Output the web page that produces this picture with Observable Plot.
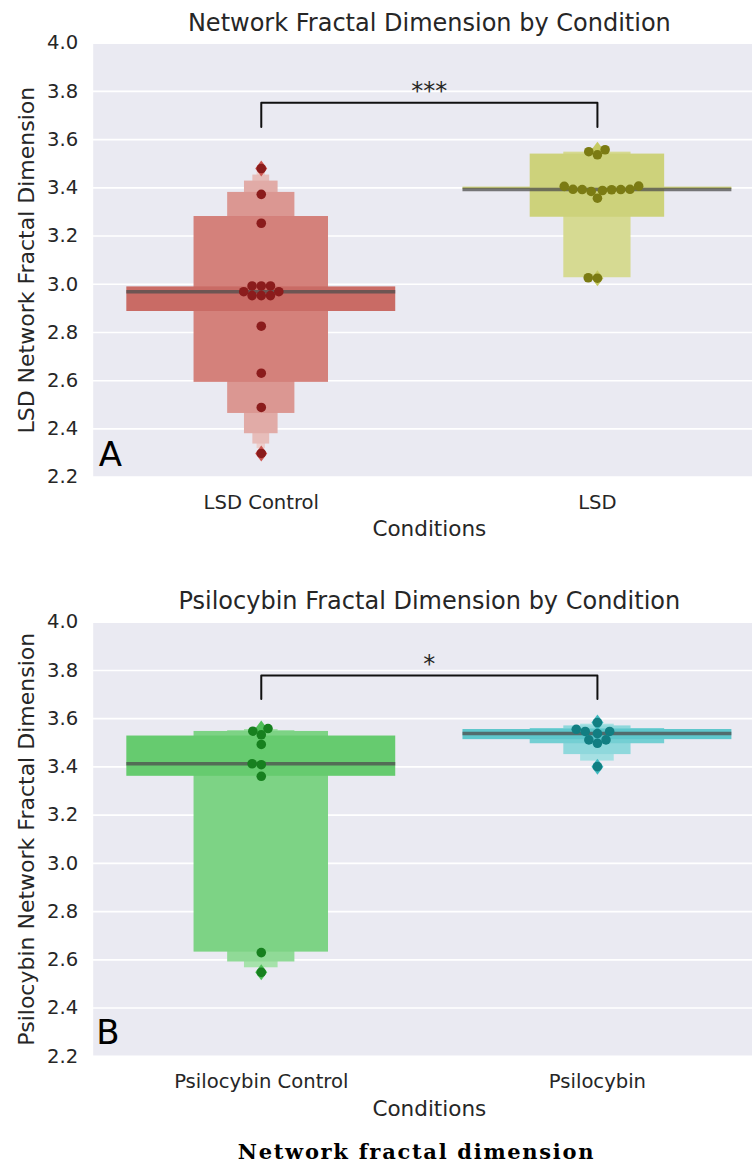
<!DOCTYPE html>
<html>
<head>
<meta charset="utf-8">
<script src="https://cdn.jsdelivr.net/npm/d3@7"></script>
<script src="https://cdn.jsdelivr.net/npm/@observablehq/plot@0.6"></script>
<style>
  html, body { margin: 0; padding: 0; background: #ffffff; overflow: hidden; }
  #page { position: relative; width: 752px; height: 1168px; overflow: hidden; background: #ffffff; }
  #page svg { position: absolute; left: 0; max-width: none !important; }
  #caption { position: absolute; left: 0; width: 833px; text-align: center;
             font-family: "DejaVu Serif", serif; font-weight: bold; font-size: 21px;
             letter-spacing: 1.7px; line-height: 21px; color: #000; white-space: nowrap; }
</style>
</head>
<body>
<div id="page"><div id="caption">Network fractal dimension</div></div>
<script>
// ---------------- data ----------------
const lsdCategories = ["LSD Control", "LSD"];
const psiCategories = ["Psilocybin Control", "Psilocybin"];
const yTicks = [2.2, 2.4, 2.6, 2.8, 3.0, 3.2, 3.4, 3.6, 3.8, 4.0];

// individual subject values (swarm points)
const lsdControlValues = [3.480, 3.373, 3.253, 2.993, 2.993, 2.993, 2.969, 2.969, 2.953, 2.953, 2.953, 2.826, 2.631, 2.489, 2.298];
const lsdValues        = [3.550, 3.537, 3.558, 3.407, 3.393, 3.393, 3.389, 3.385, 3.357, 3.392, 3.394, 3.394, 3.406, 3.027, 3.025];
const psiControlValues = [3.548, 3.559, 3.533, 3.493, 3.413, 3.409, 3.361, 2.630, 2.548];
const psiValues        = [3.584, 3.547, 3.547, 3.556, 3.538, 3.512, 3.512, 3.498, 3.401];

// letter-value boxes (depth 0 = widest box, then each deeper level)
const lsdControlBoxLow  = [2.887, 2.593, 2.464, 2.380, 2.337, 2.318];
const lsdControlBoxHigh = [2.989, 3.281, 3.381, 3.428, 3.453, 3.466];
const lsdBoxLow         = [3.393, 3.278, 3.027];
const lsdBoxHigh        = [3.403, 3.540, 3.548];
const psiControlBoxLow  = [3.361, 2.632, 2.591, 2.567];
const psiControlBoxHigh = [3.528, 3.547, 3.550, 3.555];
const psiBoxLow         = [3.513, 3.496, 3.451, 3.424];
const psiBoxHigh        = [3.555, 3.559, 3.570, 3.577];

// significance brackets [end, top]
const lsdBracket = [3.652, 3.753];
const lsdStars = "***";
const psiBracket = [3.682, 3.779];
const psiStars = "*";

// ---------------- styles ----------------
const colors = {
  lsdControl: {boxes: ["#c96b65", "#d4817b", "#db9792", "#e1aba7", "#e7bdba", "#eccecc"], point: "#8b1c1c", flier: "#cd5752"},
  lsd:        {boxes: ["#cdd17a", "#cdd27b", "#d6da92"], point: "#7b7b13", flier: "#c6ca62"},
  psiControl: {boxes: ["#66cb6f", "#7dd385", "#90da97", "#a6e2ab"], point: "#17801f", flier: "#4fbf59"},
  psi:        {boxes: ["#5ec7cc", "#74cfd3", "#8fd8dc", "#a6e0e3"], point: "#127e82", flier: "#3fb9bf"}
};
const TEXT = "#262626";
const FONT = "DejaVu Sans";

// thin diamond symbol (matplotlib 'd')
const thinDiamond = {
  draw(ctx, size) {
    const r = Math.sqrt(size / Math.PI);
    const h = r * 1.6, w = r * 1.2;
    ctx.moveTo(0, -h); ctx.lineTo(w, 0); ctx.lineTo(0, h); ctx.lineTo(-w, 0); ctx.closePath();
  }
};

// seaborn-like beeswarm: returns pixel offsets
function swarm(values, ypx, d) {
  const order = d3.range(values.length).sort((a, b) => values[a] - values[b]);
  const placed = [];
  const off = new Array(values.length);
  for (const i of order) {
    const y = ypx(values[i]);
    const neigh = placed.filter(p => Math.abs(p.y - y) < d);
    const cands = [0];
    for (const p of neigh) {
      const dx = Math.sqrt(d * d - (p.y - y) ** 2);
      cands.push(p.x - dx, p.x + dx);
    }
    cands.sort((a, b) => Math.abs(a) - Math.abs(b));
    const x = cands.find(c => neigh.every(p => (p.x - c) ** 2 + (p.y - y) ** 2 >= d * d - 1e-6));
    placed.push({x, y});
    off[i] = x;
  }
  return off;
}

function makePanel(cfg) {
  const W = 765, H = 560;
  const mL = 92.7, mR = 0;
  const mT = cfg.frameTop - cfg.top;
  const mB = H - (cfg.frameBottom - cfg.top);
  const ypx = d3.scaleLinear([2.2, 4.0], [H - mB, mT]);
  const xUnit = (W - mL - mR) / 2;
  const D = 9.2;

  const groups = cfg.groups.map((g, i) => ({...g, pos: i}));
  const boxes = groups.flatMap(g => g.low.map((lo, k) => ({
    pos: g.pos, k, lo, hi: g.high[k], half: 0.4 / 2 ** k, fill: g.colors.boxes[k]
  }))).sort((a, b) => b.k - a.k);
  const medians = groups.map(g => ({pos: g.pos, v: d3.median(g.values)}));
  const fliers = groups.flatMap(g => d3.extent(g.values).map(v => ({pos: g.pos, v, fill: g.colors.flier})));
  const points = groups.flatMap(g => {
    const off = swarm(g.values, ypx, D);
    return g.values.map((v, j) => ({x: g.pos + off[j] / xUnit, v, fill: g.colors.point}));
  });
  const bracket = [
    {x: 0, y: cfg.bracket[0]}, {x: 0, y: cfg.bracket[1]},
    {x: 1, y: cfg.bracket[1]}, {x: 1, y: cfg.bracket[0]}
  ];

  const svg = Plot.plot({
    width: W, height: H,
    marginLeft: mL, marginRight: mR, marginTop: mT, marginBottom: mB,
    x: {domain: [-0.5, 1.5], ticks: [0, 1], tickFormat: i => cfg.categories[i], tickSize: 0, tickPadding: 18, label: null},
    y: {domain: [2.2, 4.0], ticks: yTicks, tickFormat: d3.format(".1f"), tickSize: 0, tickPadding: 15, label: null},
    color: {type: "identity"},
    style: {fontFamily: FONT, fontSize: "19.6px", color: TEXT, background: "transparent", overflow: "visible", maxWidth: "none"},
    marks: [
      Plot.frame({fill: "#eaeaf2", stroke: "none"}),
      Plot.ruleY(yTicks, {stroke: "#ffffff", strokeWidth: 1.6}),
      Plot.rect(boxes, {x1: d => d.pos - d.half, x2: d => d.pos + d.half, y1: "lo", y2: "hi", fill: "fill"}),
      Plot.ruleY(medians, {y: "v", x1: d => d.pos - 0.4, x2: d => d.pos + 0.4, stroke: "#4d4d4d", strokeOpacity: 0.75, strokeWidth: 3.5}),
      Plot.dot(fliers, {x: "pos", y: "v", r: 5, symbol: thinDiamond, fill: "fill", stroke: "none"}),
      Plot.dot(points, {x: "x", y: "v", r: 4.8, fill: "fill", stroke: "none"}),
      Plot.line(bracket, {x: "x", y: "y", stroke: "#111111", strokeWidth: 2}),
      Plot.text([cfg.stars], {text: d => d, x: 0.5, y: cfg.bracket[1], dy: -3.5, lineAnchor: "bottom", fontSize: 24, fill: TEXT}),
      Plot.text([cfg.title], {text: d => d, frameAnchor: "top", dy: cfg.titleDy, lineAnchor: "bottom", fontSize: 24, fill: TEXT}),
      Plot.text(["Conditions"], {text: d => d, frameAnchor: "bottom", dy: 59.2, lineAnchor: "bottom", fontSize: 21.5, fill: TEXT}),
      Plot.text([cfg.ylabel], {text: d => d, frameAnchor: "left", dx: -59.4, rotate: -90, lineAnchor: "bottom", textAnchor: "middle", fontSize: 22, fill: TEXT}),
      Plot.text([cfg.letter], {text: d => d, frameAnchor: "bottom-left", dx: cfg.letterDx, dy: cfg.letterDy, textAnchor: "start", lineAnchor: "bottom", fontSize: 34, fill: "#000000"})
    ]
  });
  svg.style.top = cfg.top + "px";
  return svg;
}

const page = document.getElementById("page");
page.appendChild(makePanel({
  top: 0, frameTop: 42.7, frameBottom: 476.6,
  categories: lsdCategories,
  title: "Network Fractal Dimension by Condition",
  ylabel: "LSD Network Fractal Dimension",
  letter: "A", letterDx: 5.5, letterDy: -11.6, titleDy: -12,
  bracket: lsdBracket, stars: lsdStars,
  groups: [
    {values: lsdControlValues, low: lsdControlBoxLow, high: lsdControlBoxHigh, colors: colors.lsdControl},
    {values: lsdValues, low: lsdBoxLow, high: lsdBoxHigh, colors: colors.lsd}
  ]
}));
page.appendChild(makePanel({
  top: 560, frameTop: 621.7, frameBottom: 1055.8,
  categories: psiCategories,
  title: "Psilocybin Fractal Dimension by Condition",
  ylabel: "Psilocybin Network Fractal Dimension",
  letter: "B", letterDx: 3, letterDy: -12.5, titleDy: -13.4,
  bracket: psiBracket, stars: psiStars,
  groups: [
    {values: psiControlValues, low: psiControlBoxLow, high: psiControlBoxHigh, colors: colors.psiControl},
    {values: psiValues, low: psiBoxLow, high: psiBoxHigh, colors: colors.psi}
  ]
}));
document.getElementById("caption").style.top = "1140.5px";
</script>
</body>
</html>
